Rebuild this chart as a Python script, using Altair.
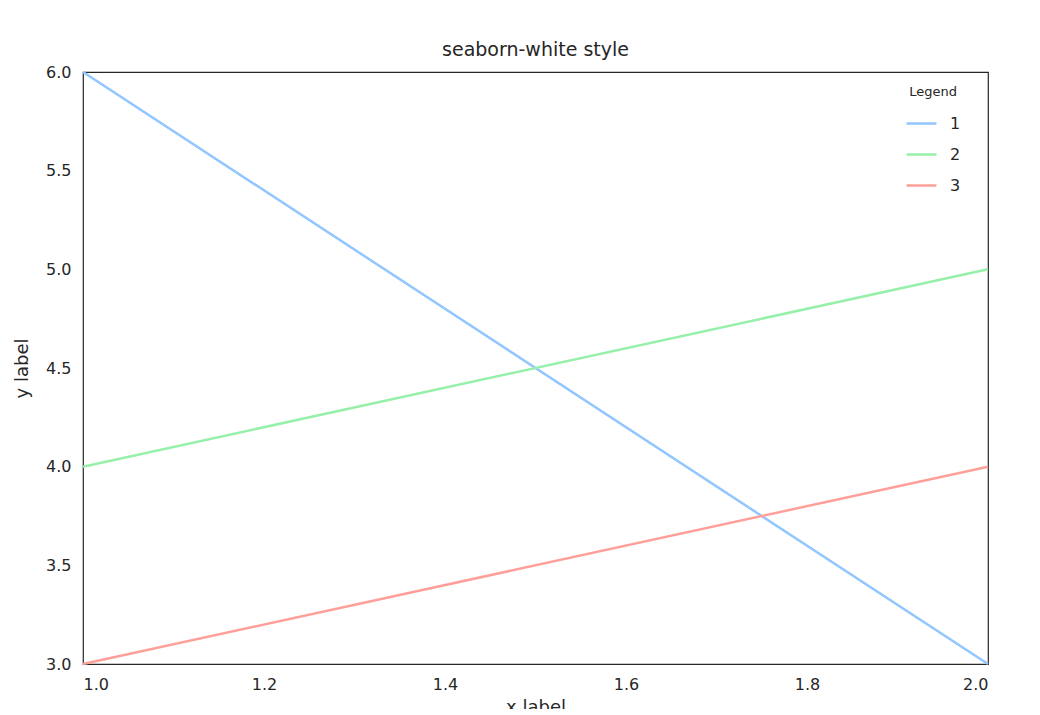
import altair as alt
import pandas as pd

series = ["1", "2", "3"]
xs = [1.0, 2.0]
y1 = [6.0, 3.0]
y2 = [4.0, 5.0]
y3 = [3.0, 4.0]
colors = ["#92C6FF", "#97F0AA", "#FF9F9A"]

rows = []
for s, ys in zip(series, [y1, y2, y3]):
    for x, y in zip(xs, ys):
        rows.append({"x": x, "y": y, "s": s})
df = pd.DataFrame(rows)

font = "DejaVu Sans"
chart = alt.Chart(df).mark_line(strokeWidth=2.5).encode(
    x=alt.X("x:Q", scale=alt.Scale(domain=[1, 2], nice=False),
            axis=alt.Axis(title="x label", values=[1.0, 1.2, 1.4, 1.6, 1.8, 2.0], format=".1f",
                          grid=False, domain=False, ticks=False, labelPadding=12,
                          labelFontSize=16, titleFontSize=18, titleFontWeight="normal",
                          labelColor="#262626", titleColor="#262626", titlePadding=6, labelFont=font, titleFont=font)),
    y=alt.Y("y:Q", scale=alt.Scale(domain=[3, 6], nice=False),
            axis=alt.Axis(title="y label", values=[3.0, 3.5, 4.0, 4.5, 5.0, 5.5, 6.0], format=".1f",
                          grid=False, domain=False, ticks=False, labelPadding=12,
                          labelFontSize=16, titleFontSize=18, titleFontWeight="normal",
                          labelColor="#262626", titleColor="#262626", titlePadding=14, labelFont=font, titleFont=font)),
    color=alt.Color("s:N", scale=alt.Scale(domain=series, range=colors),
                    legend=alt.Legend(title="Legend", orient="none", legendX=822, legendY=14,
                                      symbolType="stroke", symbolSize=900, symbolStrokeWidth=2.5,
                                      labelFontSize=16, titleFontSize=13, titleFontWeight="normal",
                                      titleAlign="center", titleAnchor="middle", titlePadding=8,
                                      rowPadding=6, labelOffset=12, labelFont=font, titleFont=font,
                                      labelColor="#262626", titleColor="#262626")),
).properties(
    width=905, height=592,
    title=alt.Title("seaborn-white style", fontSize=19, fontWeight="normal", font=font, color="#262626", offset=4),
    autosize=alt.AutoSizeParams(type="none"),
    padding={"left": 75, "top": 64, "right": 40, "bottom": 45},
).configure(background="white").configure_view(stroke="#262626", strokeWidth=1.2)

chart.save("out.html", embed_options={"renderer": "svg", "actions": False})
